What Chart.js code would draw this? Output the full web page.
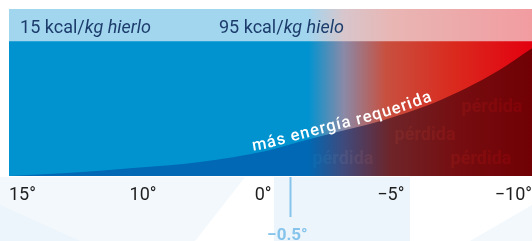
<!DOCTYPE html>
<html><head><meta charset="utf-8">
<script src="https://cdn.jsdelivr.net/npm/chart.js@4"></script>
<style>html,body{margin:0;padding:0;background:#fff;overflow:hidden}#c{display:block}</style>
</head><body>
<canvas id="c" width="532" height="241"></canvas>
<script>
// ---- data ----
const tickLabels = ['15°', '10°', '0°', '−5°', '−10°'];
const tickPositions = [0, 1.025, 1.943, 2.92, 4];
const curveX = [0, 0.444, 0.948, 1.461, 1.966, 2.218, 2.478, 2.73, 2.983, 3.243, 3.495, 3.748, 4];
const curveEnergy = [0, 2.2, 5.9, 10.4, 18.5, 25.2, 31.9, 37.8, 45.2, 54.1, 65.2, 78.5, 94.8];
const bandHeaders = ['15 kcal/kg hierlo', '95 kcal/kg hielo'];
const headerPositions = [0.085, 1.606];
const markerValue = 2.15;
const markerLabel = '−0.5°';
const curveLabel = 'más energía requerida';
const lossLabel = 'pérdida';
const lossSpots = [[3.694, 51], [3.182, 30.4], [2.554, 11.9], [3.61, 11.9]];
const mainTop = 100, bandTop = 124;

function grad(chart, stops) {
  const ca = chart.chartArea;
  if (!ca) return null;
  const g = chart.ctx.createLinearGradient(ca.left, 0, ca.right, 0);
  stops.forEach(s => g.addColorStop(s[0], s[1]));
  return g;
}
const brightStops = [[0, '#0093d0'], [0.572, '#0093d0'], [0.64, '#8a8aa8'], [0.72, '#c8503f'], [0.85, '#da2a1e'], [1, '#e3000f']];
const darkStops = [[0, '#0068b4'], [0.572, '#0068b4'], [0.64, '#3f4a7c'], [0.73, '#6e2428'], [0.86, '#760d10'], [1, '#700004']];
const lightStops = [[0, '#a2d5ee'], [0.572, '#a2d5ee'], [0.64, '#d8c6cc'], [0.73, '#e8b6b4'], [1, '#f29ca0']];

const deco = {
  id: 'deco',
  beforeDraw(chart) {
    const c = chart.ctx;
    c.save();
    c.fillStyle = '#ffffff';
    c.fillRect(0, 0, chart.width, chart.height);
    c.fillStyle = '#f2f8fc';
    c.beginPath(); c.moveTo(0, 177); c.lineTo(245, 177); c.lineTo(195, 241); c.lineTo(0, 241); c.closePath(); c.fill();
    c.fillStyle = '#ecf5fb';
    c.beginPath(); c.moveTo(0, 205); c.lineTo(80, 241); c.lineTo(0, 241); c.closePath(); c.fill();
    c.fillRect(274, 177, 136, 64);
    c.fillStyle = '#f2f8fc';
    c.beginPath(); c.moveTo(470, 241); c.lineTo(532, 205); c.lineTo(532, 241); c.closePath(); c.fill();
    c.restore();
  },
  afterDatasetsDraw(chart) {
    const c = chart.ctx, xs = chart.scales.x, ys = chart.scales.y, ca = chart.chartArea;
    c.save();
    // header texts
    c.fillStyle = '#1c3d6c';
    c.textBaseline = 'alphabetic';
    const hy = (ys.getPixelForValue(bandTop) + ys.getPixelForValue(mainTop)) / 2 + 7.5;
    bandHeaders.forEach((h, i) => {
      let x = xs.getPixelForValue(headerPositions[i]);
      const k = h.indexOf('/') + 1;
      const a = h.slice(0, k), b = h.slice(k);
      c.font = '18px Roboto';
      c.fillText(a, x, hy);
      x += c.measureText(a).width;
      c.font = 'italic 18px Roboto';
      c.fillText(b, x, hy);
    });
    // loss labels
    c.font = 'bold 18px Roboto';
    c.textAlign = 'center';
    c.textBaseline = 'middle';
    c.globalAlpha = 0.15;
    c.fillStyle = grad(chart, brightStops);
    lossSpots.forEach(p => c.fillText(lossLabel, xs.getPixelForValue(p[0]), ys.getPixelForValue(p[1])));
    c.globalAlpha = 1;
    // curve label along curve
    const pts = chart.getDatasetMeta(0).data.map(p => ({x: p.x, y: p.y}));
    const cy = x => {
      for (let i = 1; i < pts.length; i++) {
        if (x <= pts[i].x) {
          const t = (x - pts[i - 1].x) / (pts[i].x - pts[i - 1].x);
          return pts[i - 1].y + t * (pts[i].y - pts[i - 1].y);
        }
      }
      return pts[pts.length - 1].y;
    };
    c.font = '500 16.5px Roboto';
    c.fillStyle = '#ffffff';
    c.textAlign = 'left';
    c.textBaseline = 'alphabetic';
    const chars = [...curveLabel];
    const ws = chars.map(ch => c.measureText(ch).width);
    const total = ws.reduce((s, w) => s + w, 0);
    const sp = Math.max(0, (186 - total) / (chars.length - 1));
    let x = xs.getPixelForValue(1.866);
    chars.forEach((ch, i) => {
      const w = ws[i];
      const xm = x + w / 2;
      const a = Math.atan((cy(xm + 3) - cy(xm - 3)) / 6);
      c.save();
      c.translate(xm, cy(xm) - 2.5);
      c.rotate(a);
      c.fillText(ch, -w / 2, 0);
      c.restore();
      x += (w + sp) * Math.cos(a);
    });
    // marker
    const mx = Math.round(xs.getPixelForValue(markerValue)) + 0.5;
    c.strokeStyle = '#86c4eb';
    c.lineWidth = 2;
    c.beginPath(); c.moveTo(mx, ca.bottom + 1); c.lineTo(mx, 217); c.stroke();
    c.fillStyle = '#86c4eb';
    c.font = 'bold 17px Roboto';
    c.textAlign = 'center';
    c.fillText(markerLabel, mx - 3, 240);
    c.restore();
  }
};

new Chart(document.getElementById('c'), {
  type: 'line',
  data: {
    datasets: [
      {
        data: curveX.map((x, i) => ({x, y: curveEnergy[i]})),
        cubicInterpolationMode: 'monotone',
        fill: 'origin',
        borderWidth: 0,
        pointRadius: 0,
        pointHoverRadius: 0,
        backgroundColor: ctx => grad(ctx.chart, darkStops)
      },
      {
        data: [{x: 0, y: mainTop}, {x: 4, y: mainTop}],
        fill: 'origin',
        borderWidth: 0,
        pointRadius: 0,
        pointHoverRadius: 0,
        backgroundColor: ctx => grad(ctx.chart, brightStops)
      },
      {
        data: [{x: 0, y: bandTop}, {x: 4, y: bandTop}],
        fill: 'origin',
        borderWidth: 0,
        pointRadius: 0,
        pointHoverRadius: 0,
        backgroundColor: ctx => grad(ctx.chart, lightStops)
      }
    ]
  },
  options: {
    responsive: false,
    animation: false,
    devicePixelRatio: 1,
    layout: {autoPadding: false, padding: {left: 9, right: 0, top: 9, bottom: 0}},
    plugins: {legend: {display: false}, tooltip: {enabled: false}},
    scales: {
      x: {
        type: 'linear', min: 0, max: 4,
        grid: {display: false, drawTicks: false},
        border: {display: false},
        afterBuildTicks: s => { s.ticks = tickPositions.map(v => ({value: v})); },
        afterFit: s => { s.height = 65; s.paddingLeft = 0; s.paddingRight = 0; },
        ticks: {
          align: 'inner', autoSkip: false, maxRotation: 0, padding: 9,
          color: '#1e1e1e', font: {family: 'Roboto', size: 18},
          callback: (v, i) => tickLabels[i]
        }
      },
      y: {type: 'linear', min: 0, max: bandTop, display: false}
    }
  },
  plugins: [deco]
});
</script>
</body></html>
